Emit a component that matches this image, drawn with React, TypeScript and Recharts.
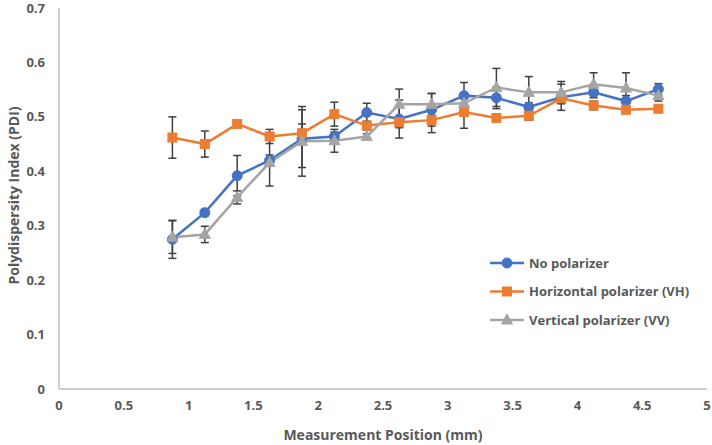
import { ErrorBar, Line, LineChart, XAxis, YAxis } from "recharts";

// measurement positions (mm)
const positions = [
  0.875, 1.125, 1.375, 1.625, 1.875, 2.125, 2.375, 2.625, 2.875, 3.125, 3.375, 3.625, 3.875, 4.125,
  4.375, 4.625,
];

// PDI per series, with the +/- error shown as bars
const noPolarizer = [
  0.275, 0.324, 0.392, 0.42, 0.46, 0.464, 0.508, 0.496, 0.513, 0.539, 0.535, 0.518, 0.536, 0.545,
  0.529, 0.551,
];
const noPolarizerErr = [
  0.035, 0.006, 0.037, 0.01, 0.053, 0.008, 0.017, 0.035, 0.03, 0.024, 0.02, 0.008, 0.024, 0.01, 0.01,
  0.01,
];
const horizontal = [
  0.462, 0.45, 0.487, 0.464, 0.47, 0.505, 0.484, 0.49, 0.494, 0.509, 0.498, 0.502, 0.534, 0.521,
  0.513, 0.515,
];
const horizontalErr = [
  0.038, 0.024, 0.006, 0.013, 0.017, 0.022, 0.008, 0.01, 0.023, 0.03, 0.006, 0.008, 0.01, 0.008,
  0.005, 0.005,
];
const vertical = [
  0.279, 0.284, 0.352, 0.416, 0.455, 0.456, 0.464, 0.523, 0.523, 0.525, 0.554, 0.545, 0.545, 0.56,
  0.553, 0.539,
];
const verticalErr = [
  0.03, 0.015, 0.012, 0.043, 0.064, 0.021, 0.005, 0.028, 0.02, 0.01, 0.035, 0.029, 0.02, 0.021,
  0.028, 0.01,
];

const xTicks = [0, 0.5, 1, 1.5, 2, 2.5, 3, 3.5, 4, 4.5, 5];
const yTicks = [0, 0.1, 0.2, 0.3, 0.4, 0.5, 0.6, 0.7];

const seriesNames = ["No polarizer", "Horizontal polarizer (VH)", "Vertical polarizer (VV)"];

const data = positions.map((x, i) => ({
  x,
  none: noPolarizer[i],
  noneErr: noPolarizerErr[i],
  vh: horizontal[i],
  vhErr: horizontalErr[i],
  vv: vertical[i],
  vvErr: verticalErr[i],
}));

const BLUE = "#4472C4";
const ORANGE = "#ED7D31";
const GRAY = "#A5A5A5";
const TEXT = "#595959";
const FONT = "'Open Sans', 'Liberation Sans', sans-serif";

type Marker = "circle" | "square" | "triangle";

function MarkerShape({ cx, cy, kind, color }: { cx: number; cy: number; kind: Marker; color: string }) {
  if (cx == null || cy == null) return null;
  if (kind === "circle") return <circle cx={cx} cy={cy} r={5} fill={color} stroke={color} />;
  if (kind === "square")
    return <rect x={cx - 4.5} y={cy - 4.5} width={9} height={9} fill={color} stroke={color} />;
  return (
    <polygon
      points={`${cx},${cy - 6} ${cx + 5.5},${cy + 4} ${cx - 5.5},${cy + 4}`}
      fill={color}
      stroke={color}
    />
  );
}

const dotFor = (kind: Marker, color: string) => (p: any) => (
  <MarkerShape key={`${kind}-${p.index}`} cx={p.cx} cy={p.cy} kind={kind} color={color} />
);

// legend drawn as an overlay so it doesn't shrink the plot area
function LegendBox() {
  const items: [string, Marker, string][] = [
    [seriesNames[0], "circle", BLUE],
    [seriesNames[1], "square", ORANGE],
    [seriesNames[2], "triangle", GRAY],
  ];
  return (
    <svg
      width={220}
      height={90}
      style={{ position: "absolute", left: 488, top: 253, display: "block" }}
    >
      {items.map(([name, kind, color], i) => {
        const y = 10 + i * 28.5;
        return (
          <g key={name}>
            <line x1={2} x2={36} y1={y} y2={y} stroke={color} strokeWidth={2.5} />
            <MarkerShape cx={19} cy={y} kind={kind} color={color} />
            <text
              x={41}
              y={y}
              dy="0.35em"
              fill={TEXT}
              fontSize={13}
              fontWeight={700}
              fontFamily={FONT}
            >
              {name}
            </text>
          </g>
        );
      })}
    </svg>
  );
}

function YTitle(props: any) {
  const { viewBox } = props;
  const cx = 13;
  const cy = viewBox.y + viewBox.height / 2 - 3;
  return (
    <text
      x={cx}
      y={cy}
      transform={`rotate(-90, ${cx}, ${cy})`}
      textAnchor="middle"
      dominantBaseline="central"
      fill={TEXT}
      fontSize={14}
      fontWeight={700}
      fontFamily={FONT}
    >
      Polydispersity Index (PDI)
    </text>
  );
}

export default function App() {
  const tick = { fill: TEXT, fontSize: 13, fontWeight: 700, fontFamily: FONT };
  return (
    <div style={{ position: "absolute", left: 0, top: 0, width: 712, height: 445, background: "#fff" }}>
      <LineChart width={712} height={445} data={data} margin={{ top: 8, right: 5, bottom: 0, left: 0 }}>
        <XAxis
          dataKey="x"
          type="number"
          domain={[0, 5]}
          ticks={xTicks}
          interval={0}
          tickLine={false}
          tickSize={0}
          tickMargin={12}
          axisLine={{ stroke: "#BFBFBF", strokeWidth: 1.5 }}
          tick={tick}
          height={56}
          label={{
            value: "Measurement Position (mm)",
            position: "insideBottom",
            offset: 5,
            fill: TEXT,
            fontSize: 14,
            fontWeight: 700,
            fontFamily: FONT,
          }}
        />
        <YAxis
          type="number"
          domain={[0, 0.7]}
          ticks={yTicks}
          interval={0}
          tickLine={false}
          tickSize={0}
          tickMargin={14}
          axisLine={{ stroke: "#BFBFBF", strokeWidth: 1.5 }}
          tick={tick}
          width={59}
          label={<YTitle />}
        />
        <Line
          dataKey="none"
          name={seriesNames[0]}
          stroke={BLUE}
          strokeWidth={2.5}
          dot={dotFor("circle", BLUE)}
          activeDot={false}
          isAnimationActive={false}
        >
          <ErrorBar dataKey="noneErr" direction="y" width={4} stroke="#404040" strokeWidth={1.5} />
        </Line>
        <Line
          dataKey="vh"
          name={seriesNames[1]}
          stroke={ORANGE}
          strokeWidth={2.5}
          dot={dotFor("square", ORANGE)}
          activeDot={false}
          isAnimationActive={false}
        >
          <ErrorBar dataKey="vhErr" direction="y" width={4} stroke="#404040" strokeWidth={1.5} />
        </Line>
        <Line
          dataKey="vv"
          name={seriesNames[2]}
          stroke={GRAY}
          strokeWidth={2.5}
          dot={dotFor("triangle", GRAY)}
          activeDot={false}
          isAnimationActive={false}
        >
          <ErrorBar dataKey="vvErr" direction="y" width={4} stroke="#404040" strokeWidth={1.5} />
        </Line>
      </LineChart>
      <LegendBox />
    </div>
  );
}
